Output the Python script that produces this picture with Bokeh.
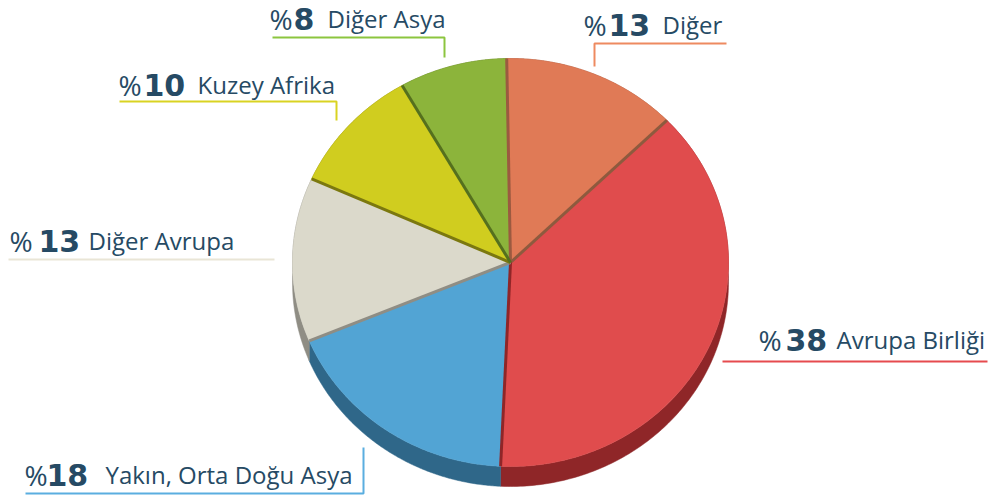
import numpy as np
from bokeh.plotting import figure
from bokeh.models import Range1d
from bokeh.embed import file_html
from bokeh.resources import INLINE
from bokeh.core.properties import value

# ---------------- data ----------------
labels = ["Diğer", "Avrupa Birliği", "Yakın, Orta Doğu Asya", "Diğer Avrupa", "Kuzey Afrika", "Diğer Asya"]
shares = [13, 38, 18, 13, 10, 8]

# ---------------- style ----------------
top_colors = ["#E07A56", "#E04C4D", "#52A4D4", "#DBD9CB", "#D0CD1F", "#8CB43B"]
wall_colors = ["#9B553C", "#8F2628", "#2F6789", "#8F8D84", "#817F12", "#58701F"]
edge_colors = ["#9B5A40", "#8E5A3E", "#8F2628", "#8F8D84", "#7B780F", "#55701E"]
leader_colors = ["#EE8A60", "#E64B4E", "#5AAEE0", "#E9E5D6", "#D9D322", "#8CC53F"]
text_color = "#264A64"

# pie geometry (pixels of the reference)
cx, cy, rx, ry, depth = 510, 262, 218, 204, 20
start_deg = -1.0

# label layout (reference pixels; text y is the rendered anchor)
pct_x = [583, 758, 24, 9, 118, 269]
num_x = [608, 785, 46, 38, 143, 293]
name_x = [662, 836, 105, 88, 197, 327]
text_y = [24, 339, 474, 240, 84, 18]
leader_xs = [[594, 594, 726], [722, 987], [25, 363, 363], [8, 274], [119, 336, 336], [272, 444, 444]]
leader_ys = [[66, 43, 43], [361, 361], [493, 493, 447], [259, 259], [101, 101, 120], [37, 37, 57]]

# ---------------- geometry from data ----------------
vals = np.array(shares, dtype=float)
frac = vals / vals.sum()
ends = start_deg + np.cumsum(frac) * 360.0
starts = ends - frac * 360.0


def arc(a0, a1, n=160):
    t = np.radians(np.linspace(a0, a1, n))
    return cx + rx * np.sin(t), cy - ry * np.cos(t)


wall_xs, wall_ys, top_xs, top_ys = [], [], [], []
for a0, a1 in zip(starts, ends):
    ax, ay = arc(a0, a1)
    wall_xs.append(np.concatenate([ax, ax[::-1]]).tolist())
    wall_ys.append(np.concatenate([ay, (ay + depth)[::-1]]).tolist())
    top_xs.append([cx] + ax.tolist())
    top_ys.append([cy] + ay.tolist())

sep_t = np.radians(starts)
sep_x1 = (cx + rx * np.sin(sep_t)).tolist()
sep_y1 = (cy - ry * np.cos(sep_t)).tolist()

p = figure(width=994, height=496, output_backend="svg", toolbar_location=None,
           x_range=Range1d(0, 994), y_range=Range1d(496, 0), min_border=0)
p.axis.visible = False
p.grid.visible = False
p.outline_line_color = None
p.background_fill_color = "white"

p.patches(wall_xs, wall_ys, fill_color=wall_colors, line_color=wall_colors, line_width=0.5)
p.patches(top_xs, top_ys, fill_color=top_colors, line_color=top_colors, line_width=0.5)
p.segment(x0=[cx] * len(shares), y0=[cy] * len(shares), x1=sep_x1, y1=sep_y1,
          line_color=edge_colors, line_width=3)

p.multi_line(leader_xs, leader_ys, line_color=leader_colors, line_width=2)

p.text(x=pct_x, y=text_y, text=["%"] * len(shares), text_font=value("Open Sans"),
       text_font_size="28px", text_color=text_color, text_baseline="alphabetic")
p.text(x=num_x, y=text_y, text=[str(v) for v in shares], text_font=value("DejaVu Sans"),
       text_font_style="bold", text_font_size="30px", text_color=text_color,
       text_baseline="alphabetic")
p.text(x=name_x, y=text_y, text=labels, text_font=value("Open Sans"),
       text_font_size="24px", text_color=text_color, text_baseline="alphabetic")

open("out.html", "w").write(file_html(p, INLINE))
